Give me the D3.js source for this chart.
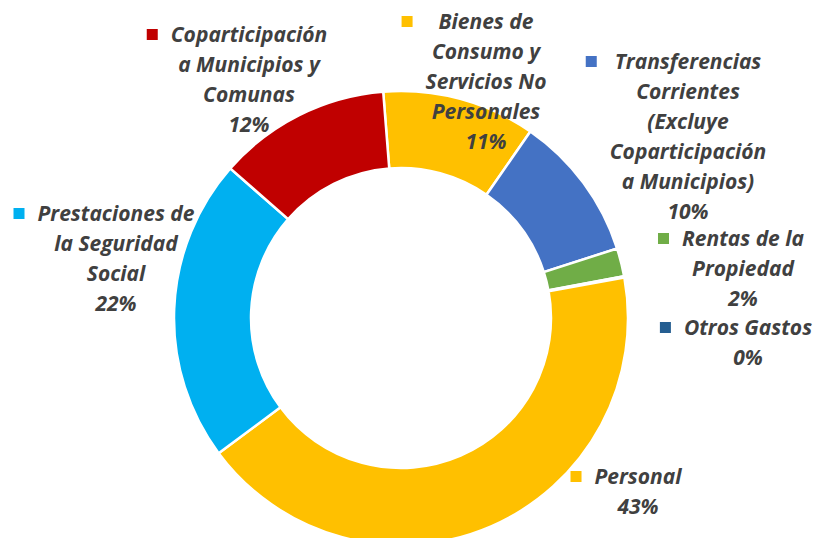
<!DOCTYPE html>
<html>
<head>
<meta charset="utf-8">
<script src="https://cdn.jsdelivr.net/npm/d3@7"></script>
<style>
  body { margin: 0; background: #fff; }
  .lbl { font-family: "Open Sans", Lato, sans-serif; font-weight: bold; font-style: italic; font-size: 21px; fill: #404040; }
</style>
</head>
<body>
<div id="chart"></div>
<script>
// data, clockwise from the top
var categories = ["Bienes de Consumo y Servicios No Personales", "Transferencias Corrientes (Excluye Coparticipación a Municipios)",
    "Rentas de la Propiedad", "Otros Gastos", "Personal", "Prestaciones de la Seguridad Social", "Coparticipación a Municipios y Comunas"];
var values = [10.9, 10.4, 2.0, 0.1, 42.7, 21.6, 12.3];
var colors = ["#FFC000", "#4472C4", "#70AD47", "#255E91", "#FFC000", "#00B0F0", "#C00000"];
var labelLines = [
    ["Bienes de", "Consumo y", "Servicios No", "Personales"],
    ["Transferencias", "Corrientes", "(Excluye", "Coparticipación", "a Municipios)"],
    ["Rentas de la", "Propiedad"],
    ["Otros Gastos"],
    ["Personal"],
    ["Prestaciones de", "la Seguridad", "Social"],
    ["Coparticipación", "a Municipios y", "Comunas"]
];

// where each label block sits (centre x, first line y)
var labelPos = [
    {x: 486, y: 22}, {x: 688, y: 62}, {x: 743, y: 239}, {x: 748, y: 328},
    {x: 638, y: 477}, {x: 116, y: 214}, {x: 249, y: 35}
];

var svgWidth = 818;
var svgHeight = 538;
var cx = 401, cy = 318;
var outerR = 227, innerR = 150;
var lineH = 30;

var svg = d3.select("#chart")
    .append("svg")
    .attr("width", svgWidth)
    .attr("height", svgHeight);

var total = d3.sum(values);
var offset = -4.5 * Math.PI / 180;
var pie = d3.pie().sort(null)
    .startAngle(offset)
    .endAngle(2 * Math.PI + offset);
var arc = d3.arc().innerRadius(innerR).outerRadius(outerR);

svg.append("g")
    .attr("transform", `translate(${cx}, ${cy})`)
    .selectAll("path")
    .data(pie(values))
    .enter()
    .append("path")
    .attr("d", arc)
    .attr("fill", (d, i) => colors[i])
    .attr("stroke", "#fff")
    .attr("stroke-width", 2.5);

// labels
labelLines.forEach(function(lines, i) {
    var p = labelPos[i];
    var g = svg.append("g");
    var all = lines.concat([Math.round(values[i] / total * 100) + "%"]);
    var t = g.append("text")
        .attr("class", "lbl")
        .attr("text-anchor", "middle");
    all.forEach(function(s, k) {
        t.append("tspan")
            .attr("x", p.x)
            .attr("y", p.y + k * lineH)
            .attr("dy", "0.35em")
            .text(s);
    });
    // legend key sits left of the widest line, level with the first one
    var w = d3.max(t.selectAll("tspan").nodes(), n => n.getComputedTextLength());
    g.append("rect")
        .attr("x", p.x - w / 2 - 24)
        .attr("y", p.y - 6)
        .attr("width", 11)
        .attr("height", 11)
        .attr("fill", colors[i]);
});
</script>
</body>
</html>
